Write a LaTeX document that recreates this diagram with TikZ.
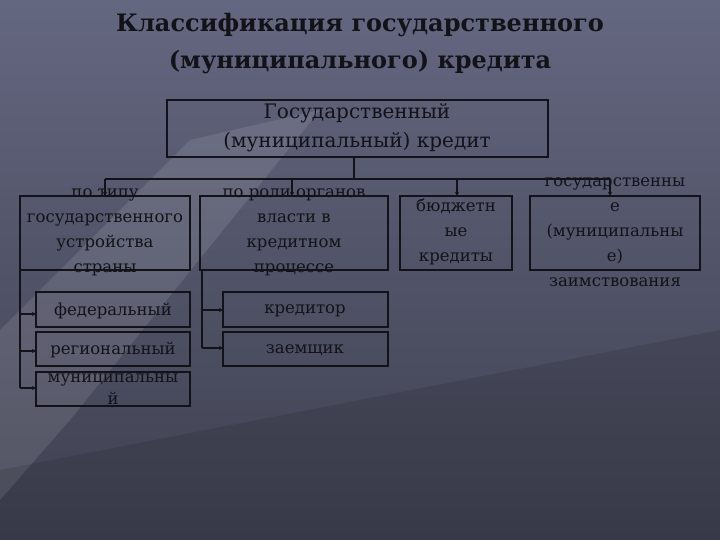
\documentclass[tikz,border=0pt]{standalone}
\usepackage{fontspec}
\setmainfont{DejaVu Serif}
\usetikzlibrary{arrows.meta}
\definecolor{bgtop}{RGB}{100,103,128}
\definecolor{bgbot}{RGB}{62,64,80}
\definecolor{ink}{RGB}{18,18,24}
\begin{document}
\begin{tikzpicture}[x=1pt,y=-1pt,
  box/.style={draw=ink,line width=1.4pt},
  lbl/.style={align=center,text=ink,font=\fontsize{16.5}{25}\selectfont},
  conn/.style={draw=ink,line width=1.1pt,-{Stealth[length=4pt,width=4pt]}},
  plain/.style={draw=ink,line width=1.1pt}]
\useasboundingbox (0,0) rectangle (720,540);
\shade[top color=bgtop, bottom color=bgbot] (0,0) rectangle (720,540);
\fill[white,opacity=0.10] (0,330) -- (190,140) -- (320,110) -- (70,420) -- (0,500) -- cycle;
\fill[black,opacity=0.10] (0,470) -- (720,330) -- (720,540) -- (0,540) -- cycle;
\node[font=\fontsize{24}{37}\selectfont\bfseries,text=ink,align=center] (title) at (360,44) {Классификация государственного\\(муниципального) кредита};
\draw[box] (167,100) rectangle (548,157);
\node[lbl,font=\fontsize{20}{29}\selectfont] (top) at (357,128) {Государственный\\(муниципальный) кредит};
\coordinate (topb) at (354,157);
\coordinate (bus) at (354,179);
\draw[box] (20,196) rectangle (190,270);
\draw[box] (200,196) rectangle (388,270);
\draw[box] (400,196) rectangle (512,270);
\draw[box] (530,196) rectangle (700,270);
\node[lbl] (b1) at (105,232) {по типу\\государственного\\устройства\\страны};
\node[lbl] (b2) at (294,232) {по роли органов\\власти в\\кредитном\\процессе};
\node[lbl] (b3) at (456,232) {бюджетн\\ые\\кредиты};
\node[lbl] (b4) at (615,232) {государственны\\е\\(муниципальны\\е)\\заимствования};
\draw[plain] (topb) -- (bus);
\draw[plain] (105,179) -- (610,179);
\foreach \x in {105,292,457,610} \draw[conn] (\x,179) -- (\x,196);
\draw[box] (36,292) rectangle (190,327);
\draw[box] (36,332) rectangle (190,366);
\draw[box] (36,372) rectangle (190,406);
\node[lbl] (f) at (113,311) {федеральный};
\node[lbl] (r) at (113,350) {региональный};
\node[lbl,font=\fontsize{16.5}{22}\selectfont] (m) at (113,389) {муниципальны\\й};
\draw[plain] (20,270) -- (20,388);
\draw[conn] (20,314) -- (36,314);
\draw[conn] (20,351) -- (36,351);
\draw[conn] (20,388) -- (36,388);
\draw[box] (223,292) rectangle (388,327);
\draw[box] (223,332) rectangle (388,366);
\node[lbl] (k) at (305,311) {кредитор};
\node[lbl] (z) at (305,350) {заемщик};
\draw[plain] (202,270) -- (202,348);
\draw[conn] (202,310) -- (223,310);
\draw[conn] (202,348) -- (223,348);
\end{tikzpicture}
\end{document}
